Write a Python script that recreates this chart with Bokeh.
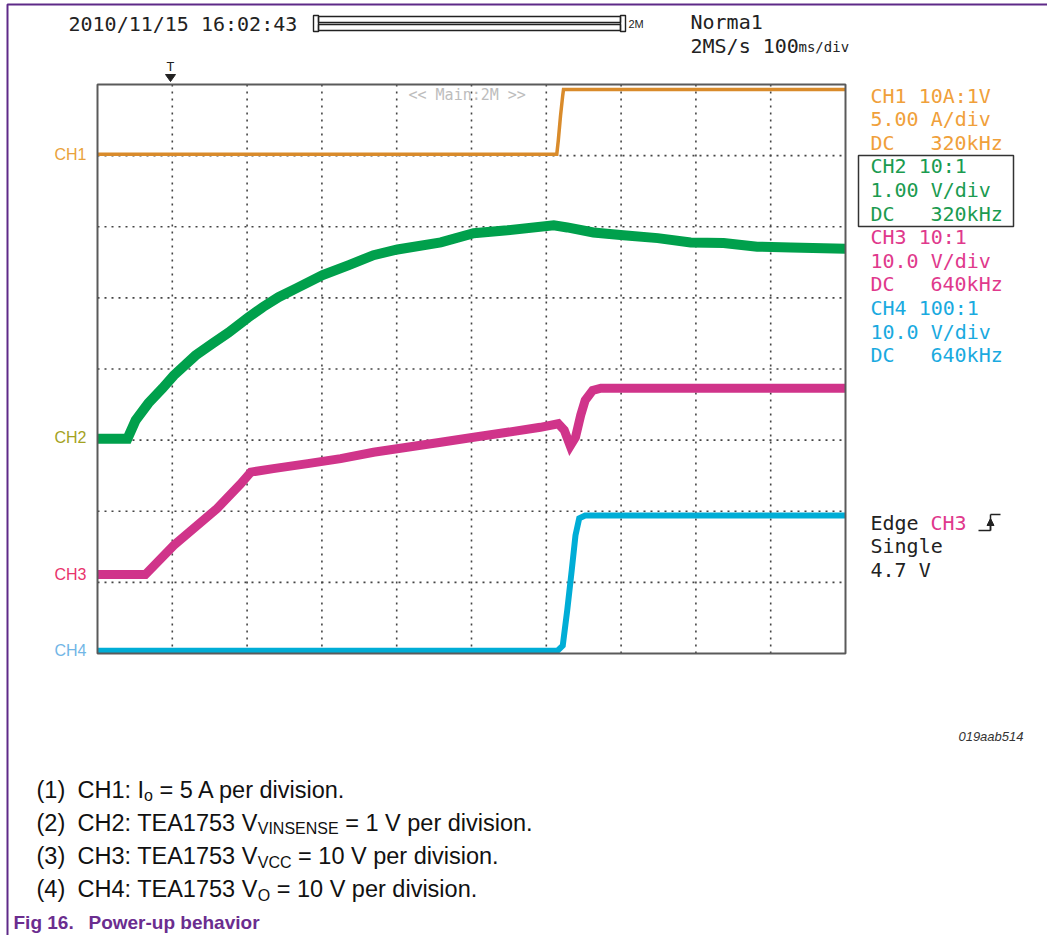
from bokeh.plotting import figure
from bokeh.models import (Label, BoxAnnotation, Arrow, NormalHead, PolyAnnotation, Range1d)
from bokeh.embed import file_html
from bokeh.resources import INLINE

# ---------------- data (time in ms, level in screen divisions 0..8) ----------------
ch1_t = [0, 614, 616, 619, 622, 623, 1000]
ch1_v = [7.02, 7.02, 7.21, 7.56, 7.85, 7.93, 7.93]

ch2_t = [0, 40, 51, 68, 87, 102, 131, 154, 175, 201, 221, 242, 265, 301, 336, 369,
         401, 459, 503, 548, 610, 628, 663, 703, 749, 793, 837, 882, 927, 1000]
ch2_v = [3.02, 3.02, 3.28, 3.52, 3.73, 3.91, 4.19, 4.36, 4.51, 4.72, 4.87, 5.01, 5.13,
         5.32, 5.46, 5.60, 5.68, 5.78, 5.91, 5.95, 6.02, 5.99, 5.92, 5.88, 5.84, 5.78,
         5.77, 5.72, 5.71, 5.69]

ch3_t = [0, 64, 102, 160, 191, 205, 235, 281, 325, 369, 414, 459, 503, 548, 592, 616,
         624, 632, 639, 646, 652, 662, 673, 1000]
ch3_v = [1.11, 1.11, 1.52, 2.04, 2.38, 2.55, 2.60, 2.67, 2.74, 2.83, 2.90, 2.97, 3.04,
         3.11, 3.18, 3.23, 3.14, 2.92, 3.04, 3.35, 3.56, 3.70, 3.73, 3.73]

ch4_t = [0, 615, 622, 628, 634, 639, 644, 652, 1000]
ch4_v = [0.04, 0.04, 0.11, 0.61, 1.17, 1.66, 1.90, 1.94, 1.94]

ch_names = ["CH1", "CH2", "CH3", "CH4"]
ch_ground = [7.02, 3.04, 1.11, 0.04]
trace_colors = ["#D98B2B", "#00A04C", "#D0348A", "#00ADD6"]
label_colors = ["#E9A23B", "#A3A21E", "#E8336C", "#72B6E6"]
trace_widths = [3.5, 10, 9, 6]

x_ticks = [100, 200, 300, 400, 500, 600, 700, 800, 900]
y_ticks = [1, 2, 3, 4, 5, 6, 7]
t_span = [0, 1000]
div_span = [0, 8]

info_lines = [
    ("CH1 10A:1V", None), ("5.00 A/div", None), ("DC", "320kHz"),
    ("CH2 10:1", None), ("1.00 V/div", None), ("DC", "320kHz"),
    ("CH3 10:1", None), ("10.0 V/div", None), ("DC", "640kHz"),
    ("CH4 100:1", None), ("10.0 V/div", None), ("DC", "640kHz"),
]
info_colors = ["#F0A03A"] * 3 + ["#1B9B50"] * 3 + ["#E0398C"] * 3 + ["#1AAADF"] * 3

notes = [
    ("(1)", "CH1: I", "o", " = 5 A per division."),
    ("(2)", "CH2: TEA1753 V", "VINSENSE", " = 1 V per division."),
    ("(3)", "CH3: TEA1753 V", "VCC", " = 10 V per division."),
    ("(4)", "CH4: TEA1753 V", "O", " = 10 V per division."),
]

# ---------------- layout ----------------
W, H = 1047, 935
L, R, T, B = 97, 845, 84, 653     # scope screen area in pixels
kx = (t_span[1] - t_span[0]) / (R - L)
ky = (div_span[1] - div_span[0]) / (B - T)

p = figure(width=W, height=H,
           x_range=Range1d(t_span[0] - L * kx, t_span[0] + (W - L) * kx),
           y_range=Range1d(div_span[0] - (H - B) * ky, div_span[0] + B * ky),
           x_axis_type=None, y_axis_type=None, output_backend="svg",
           toolbar_location=None, min_border=0,
           min_border_left=0, min_border_right=0, min_border_top=0, min_border_bottom=0)
p.outline_line_color = None
p.background_fill_color = "white"
p.border_fill_color = "white"
p.grid.visible = False

# dotted graticule
p.segment(x0=x_ticks, y0=[div_span[0]] * len(x_ticks), x1=x_ticks, y1=[div_span[1]] * len(x_ticks),
          line_color="#444444", line_width=1.6, line_dash="2 5")
p.segment(x0=[t_span[0]] * len(y_ticks), y0=y_ticks, x1=[t_span[1]] * len(y_ticks), y1=y_ticks,
          line_color="#444444", line_width=1.6, line_dash="2 5")

series = [(ch1_t, ch1_v), (ch2_t, ch2_v), (ch3_t, ch3_v), (ch4_t, ch4_v)]
for (t, v), c, w in zip(series, trace_colors, trace_widths):
    p.line(t, v, line_color=c, line_width=w, line_join="miter")

# scope frame
p.add_layout(BoxAnnotation(left=t_span[0], right=t_span[1], bottom=div_span[0], top=div_span[1],
                           fill_alpha=0, line_color="#5a5a5a", line_alpha=1, line_width=2))


def sx(x):
    return x


def sy(y):
    return H - y


MONO = "DejaVu Sans Mono"
SANS = "Liberation Sans"


def lab(x, y, text, size, color="#222222", font=MONO, align="left", style="normal"):
    p.add_layout(Label(x=sx(x), y=sy(y), x_units="screen", y_units="screen", text=text,
                       text_font_size=f"{size}px", text_color=color, text_font=font,
                       text_align=align, text_baseline="middle", text_font_style=style))


# channel ground labels (left)
for n, g, c in zip(ch_names, ch_ground, label_colors):
    p.add_layout(Label(x=86, y=g, x_units="screen", y_units="data", text=n,
                       text_font_size="16px", text_color=c, text_font=SANS,
                       text_align="right", text_baseline="middle"))

# header
lab(68, 23, "2010/11/15 16:02:43", 20)
lab(690, 21, "Norma1", 20)
lab(690, 45, "2MS/s 100", 20)
lab(798, 46, "ms/div", 14)
lab(628, 23, "2M", 11, font=SANS)
lab(408, 94, "<< Main:2M >>", 15, color="#BDBDBD")
lab(170, 66, "T", 13, align="center")


def box(x0, y0, x1, y1, color="#333333", width=1.0):
    p.add_layout(BoxAnnotation(left=sx(x0), right=sx(x1), top=sy(y0), bottom=sy(y1),
                               left_units="screen", right_units="screen",
                               top_units="screen", bottom_units="screen",
                               fill_alpha=0, line_color=color, line_alpha=1, line_width=width))


# memory bar
box(313, 15, 318, 31, color="#222222", width=1.4)
box(318, 16, 620, 22, color="#222222", width=1.4)
box(318, 24, 620, 30, color="#222222", width=1.4)
box(620, 15, 625, 31, color="#222222", width=1.4)

# trigger position marker
p.add_layout(PolyAnnotation(xs=[sx(165), sx(175), sx(170)], ys=[sy(74), sy(74), sy(81)],
                            xs_units="screen", ys_units="screen", fill_color="#222222",
                            fill_alpha=1, line_color="#222222", line_alpha=1))

# right-hand channel info
for i, ((a, b), c) in enumerate(zip(info_lines, info_colors)):
    y = 95 + i * 23.6
    lab(870, y, a, 20, color=c)
    if b:
        lab(930, y, b, 20, color=c)
box(858, 155, 1013, 226, color="#333333", width=1.5)

# trigger info
lab(870, 522, "Edge", 20)
lab(930, 522, "CH3", 20, color="#E0398C")
lab(870, 545, "Single", 20)
lab(870, 569, "4.7 V", 20)


def seg(x0, y0, x1, y1, head=None):
    p.add_layout(Arrow(x_start=sx(x0), y_start=sy(y0), x_end=sx(x1), y_end=sy(y1),
                       start_units="screen", end_units="screen", end=head,
                       line_color="#222222", line_width=1.5))


seg(978, 530, 990, 530)
seg(990, 530, 990, 514)
seg(990, 514, 1000, 514)
seg(990, 530, 990, 518, head=NormalHead(size=7, fill_color="#222222", line_color="#222222"))

# figure id
lab(1023, 736, "019aab514", 13, color="#333333", font=SANS, align="right", style="italic")

# notes with subscripts
AW = {" ": 278, "(": 333, ")": 333, ":": 278, ".": 278, "=": 584, "A": 667, "C": 722,
      "E": 667, "H": 722, "I": 278, "N": 722, "O": 778, "S": 667, "T": 611, "V": 667}
for d in "0123456789":
    AW[d] = 556


def tw(s, size):
    return sum(AW.get(ch, 556) for ch in s) * size / 1000.0


NS = 23.5
SUB = 16
for i, (num, main, sub, rest) in enumerate(notes):
    y = 789 + i * 33.3
    lab(36, y, num, NS, color="#111111", font=SANS)
    x = 77
    lab(x, y, main, NS, color="#111111", font=SANS)
    x += tw(main, NS)
    lab(x, y + 6, sub, SUB, color="#111111", font=SANS)
    x += tw(sub, SUB) + tw(" ", NS)
    lab(x, y, rest.strip(), NS, color="#111111", font=SANS)

lab(13, 922, "Fig 16.", 19, color="#6B2D8F", font=SANS, style="bold")
lab(88, 922, "Power-up behavior", 19, color="#6B2D8F", font=SANS, style="bold")

# outer purple frame (top and left edges inside the canvas)
box(7, 4, 1400, 1400, color="#5E2A88", width=2)

open("out.html", "w").write(file_html(p, INLINE))
